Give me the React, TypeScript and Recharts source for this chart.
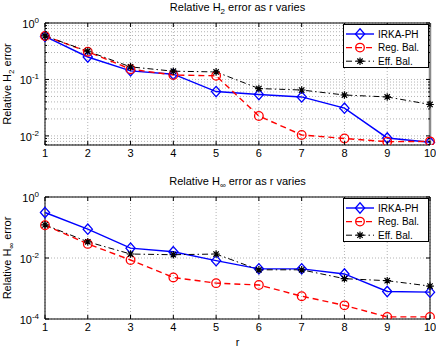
import { LineChart, Line, XAxis, YAxis, CartesianGrid, Legend, ReferenceArea, ReferenceLine, Label } from 'recharts'

const FONT = '"Liberation Sans", Arial, Helvetica, sans-serif'

// r = reduced order
const rValues = [1, 2, 3, 4, 5, 6, 7, 8, 9, 10]

// relative H2 error
const h2Irka = [0.58, 0.25, 0.142, 0.124, 0.061, 0.054, 0.049, 0.031, 0.0092, 0.0077]
const h2Reg = [0.59, 0.31, 0.152, 0.12, 0.116, 0.0225, 0.0104, 0.009, 0.0079, 0.008]
const h2Eff = [0.59, 0.316, 0.167, 0.14, 0.136, 0.069, 0.065, 0.053, 0.049, 0.036]

// relative H-infinity error
const hinfIrka = [0.31, 0.088, 0.021, 0.016, 0.0082, 0.0044, 0.0044, 0.003, 0.0008, 0.00076]
const hinfReg = [0.119, 0.029, 0.0086, 0.0023, 0.0015, 0.0013, 0.00056, 0.00028, 0.000117, 0.000117]
const hinfEff = [0.122, 0.034, 0.0135, 0.0128, 0.0135, 0.0041, 0.0041, 0.0021, 0.0018, 0.0012]

const h2Ticks = [
  0.007, 0.008, 0.009, 0.01, 0.02, 0.03, 0.04, 0.05, 0.06, 0.07, 0.08, 0.09,
  0.1, 0.2, 0.3, 0.4, 0.5, 0.6, 0.7, 0.8, 0.9, 1,
]
const hinfTicks = [0.0001, 0.01, 1]
const h2Domain = [0.0069, 1]
const hinfDomain = [0.0001, 1]

const seriesNames = ['IRKA-PH', 'Reg. Bal.', 'Eff. Bal.']

const W = 436
const H = 174
const PL = 45
const PR = 430
const PT = 23
const PB = 145

const BLUE = '#0000ff'
const RED = '#ff0000'

function diamond(p: any) {
  const { cx, cy, index } = p
  return <path key={`d${index}`} d={`M${cx},${cy - 5.2}L${cx + 4.6},${cy}L${cx},${cy + 5.2}L${cx - 4.6},${cy}Z`} fill="none" stroke={BLUE} strokeWidth={1.3} />
}
function circle(p: any) {
  const { cx, cy, index } = p
  return <circle key={`c${index}`} cx={cx} cy={cy} r={4.3} fill="none" stroke={RED} strokeWidth={1.3} />
}
function star(p: any) {
  const { cx, cy, index } = p
  const a = 3.8
  const b = 2.7
  return (
    <path key={`s${index}`} d={`M${cx - a},${cy}H${cx + a}M${cx},${cy - a}V${cy + a}M${cx - b},${cy - b}L${cx + b},${cy + b}M${cx - b},${cy + b}L${cx + b},${cy - b}`}
      stroke="#000" strokeWidth={1.2} fill="none" />
  )
}

const markers = [diamond, circle, star]
const strokes = [BLUE, RED, '#000']
const dashes = [undefined, '6 4', '6 3 1.5 3']
const widths = [1.4, 1.4, 1]

function YTick({ y, payload }: any) {
  const lg = Math.log10(payload.value)
  const major = Math.abs(lg - Math.round(lg)) < 1e-6
  const len = major ? 4 : 2
  return (
    <g>
      <line x1={PL} x2={PL + len} y1={y} y2={y} stroke="#000" />
      <line x1={PR} x2={PR - len} y1={y} y2={y} stroke="#000" />
      {major && (
        <text x={PL - 6} y={y + 5} textAnchor="end" fontSize={11} fontFamily={FONT} fill="#000">
          10<tspan dy={-5} fontSize={8}>{String(Math.round(lg))}</tspan>
        </text>
      )}
    </g>
  )
}

function XTick({ x, payload }: any) {
  return (
    <g>
      <line x1={x} x2={x} y1={PB} y2={PB - 4} stroke="#000" />
      <line x1={x} x2={x} y1={PT} y2={PT + 4} stroke="#000" />
      <text x={x} y={PB + 12} textAnchor="middle" fontSize={11} fontFamily={FONT} fill="#000">{payload.value}</text>
    </g>
  )
}

function YLab({ sub }: { sub: string }) {
  const cx = 11
  const cy = (PT + PB) / 2
  return (
    <text x={cx} y={cy} transform={`rotate(-90 ${cx} ${cy})`} textAnchor="middle" fontSize={11} fontFamily={FONT} fill="#000">
      Relative H<tspan dy={3} fontSize={8}>{sub}</tspan><tspan dy={-3}> error</tspan>
    </text>
  )
}

function LegendBox() {
  return (
    <svg width={86} height={44} style={{ display: 'block' }}>
      <rect x={0.5} y={0.5} width={85} height={43} fill="#fff" stroke="#000" />
      {seriesNames.map((name, i) => {
        const cy = 10 + i * 13.6
        const M = markers[i]
        return (
          <g key={name}>
            <line x1={3} x2={31} y1={cy} y2={cy} stroke={strokes[i]} strokeWidth={widths[i]} strokeDasharray={dashes[i]} />
            {M({ cx: 17, cy, index: i })}
            <text x={35} y={cy + 3.6} fontSize={10} fontFamily={FONT} fill="#000">{name}</text>
          </g>
        )
      })}
    </svg>
  )
}

function Panel({ title, sub, series, ticks, domain, xlabel, greyEdge }: any) {
  const data = rValues.map((r, i) => ({ r, a: series[0][i], b: series[1][i], c: series[2][i] }))
  return (
    <div style={{ position: 'relative', width: W, height: H }}>
      <div style={{ position: 'absolute', left: PL, width: PR - PL, top: 0, textAlign: 'center', fontSize: 11, lineHeight: '14px', fontFamily: FONT, zIndex: 2 }}>
        {title[0]}<sub style={{ fontSize: 8 }}>{sub}</sub>{title[1]}
      </div>
      <LineChart width={W} height={H} data={data} margin={{ top: PT, right: W - PR, left: 0, bottom: 0 }}>
        <CartesianGrid stroke="#b4b4b4" strokeDasharray="1 2" />
        <XAxis dataKey="r" type="number" domain={[1, 10]} ticks={rValues} interval={0} axisLine={false} tickLine={false}
          tick={<XTick />} height={H - PB}>
          {xlabel && <Label value="r" position="insideBottom" offset={2} style={{ fontSize: 11, fontFamily: FONT, fill: '#000' }} />}
        </XAxis>
        <YAxis type="number" scale="log" domain={domain} allowDataOverflow ticks={ticks} interval={0} axisLine={false} tickLine={false}
          tick={<YTick />} width={PL}>
          <Label content={<YLab sub={sub} />} />
        </YAxis>
        <ReferenceArea x1={1} x2={10} y1={domain[0]} y2={domain[1]} fill="none" stroke="#000" strokeOpacity={1} />
        {greyEdge && <ReferenceLine x={10} stroke="#8a8a8a" strokeWidth={2.5} />}
        {['a', 'b', 'c'].map((k, i) => (
          <Line key={k} dataKey={k} name={seriesNames[i]} type="linear" stroke={strokes[i]} strokeWidth={widths[i]}
            strokeDasharray={dashes[i]} dot={markers[i]} activeDot={false} isAnimationActive={false} />
        ))}
        <Legend layout="horizontal" verticalAlign="middle" align="center" content={<LegendBox />}
          wrapperStyle={{ left: 343, top: 24, width: 86, height: 44 }} />
      </LineChart>
    </div>
  )
}

export default function App() {
  return (
    <div style={{ position: 'absolute', left: 0, top: 0, width: W, height: 348, background: '#fff', fontFamily: FONT }}>
      <Panel title={['Relative H', ' error as r varies']} sub="2" series={[h2Irka, h2Reg, h2Eff]} ticks={h2Ticks} domain={h2Domain} greyEdge />
      <Panel title={['Relative H', ' error as r varies']} sub="∞" series={[hinfIrka, hinfReg, hinfEff]} ticks={hinfTicks} domain={hinfDomain} xlabel />
    </div>
  )
}
